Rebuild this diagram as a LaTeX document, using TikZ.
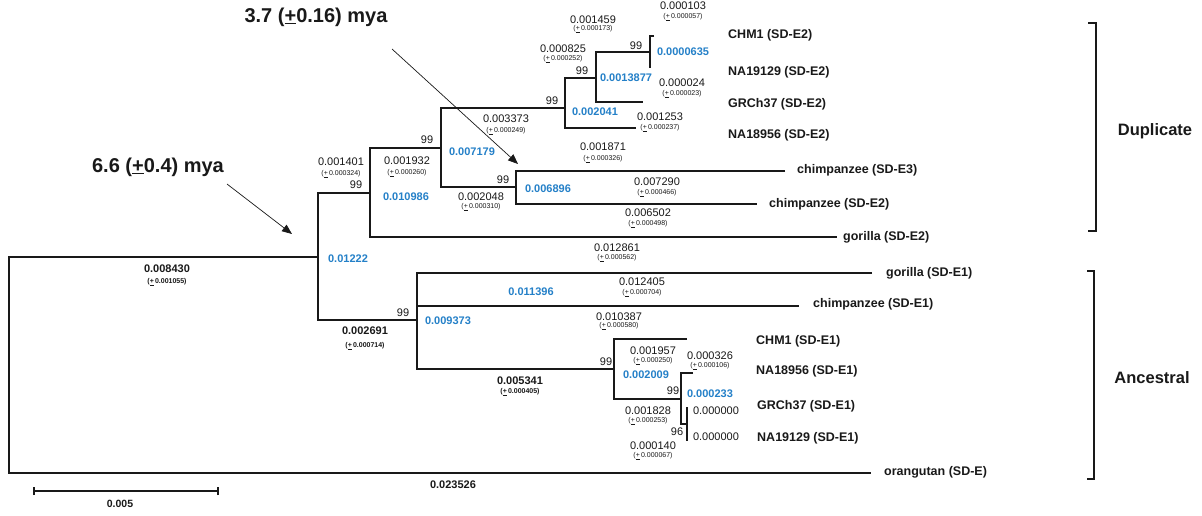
\documentclass[tikz,border=0pt]{standalone}
\usepackage{fontspec}
\setmainfont{Liberation Sans}
\usetikzlibrary{arrows.meta}
\definecolor{bl}{RGB}{36,128,200}
\definecolor{ink}{RGB}{25,25,25}
\newcommand\upl{\underline{+}}
\begin{document}
\begin{tikzpicture}[x=1pt,y=-1pt,
 br/.style={line width=1.7pt, draw=ink, line join=miter},
 num/.style={font=\fontsize{11}{12}\selectfont, text=ink, inner sep=0},
 se/.style={font=\fontsize{7}{8}\selectfont, text=ink, inner sep=0},
 bv/.style={font=\fontsize{11}{12}\selectfont\bfseries, text=bl, inner sep=0},
 bn/.style={font=\fontsize{11}{12}\selectfont\bfseries, text=ink, inner sep=0},
 leaf/.style={font=\fontsize{12.5}{14}\selectfont\bfseries, text=ink, anchor=west, inner sep=0},
 big/.style={font=\fontsize{20}{22}\selectfont\bfseries, text=ink, inner sep=0},
 grp/.style={font=\fontsize{16.5}{18}\selectfont\bfseries, text=ink, inner sep=0},
 ptr/.style={line width=0.7pt, draw=ink, -{Triangle[length=10pt,width=8pt]}},
 brk/.style={line width=1.7pt, draw=ink}
]
\fill[white] (0,0) rectangle (1202,515);
\useasboundingbox (0,0) rectangle (1202,515);

% ---------- tree coordinates ----------
\coordinate (root) at (9,257);
\coordinate (orang) at (871,473);
\coordinate (A) at (318,257);
\coordinate (D) at (370,193);
\coordinate (E) at (441,148);
\coordinate (F) at (516,187);
\coordinate (G) at (565,108);
\coordinate (H) at (596,78);
\coordinate (I) at (650,52);
\coordinate (chmA) at (654,36);
\coordinate (naA) at (650,68);
\coordinate (grcA) at (643,102);
\coordinate (na18A) at (636,128);
\coordinate (ch3) at (785,171);
\coordinate (ch2) at (757,204);
\coordinate (gor2) at (837,237);
\coordinate (J) at (417,320);
\coordinate (gor1) at (872,273);
\coordinate (ch1) at (799,306);
\coordinate (K) at (614,369);
\coordinate (chmB) at (687,339);
\coordinate (L) at (681,399);
\coordinate (na18B) at (693,373);
\coordinate (M) at (687,424);
\coordinate (grcB) at (687,407);
\coordinate (naB) at (687,441);

% ---------- branches ----------
\draw[br] (A) -- (root) |- (orang);
\draw[br] (D) -| (A) |- (J);
\draw[br] (E) -| (D) |- (gor2);
\draw[br] (G) -| (E) |- (F);
\draw[br] (ch3) -| (F) |- (ch2);
\draw[br] (H) -| (G) |- (na18A);
\draw[br] (I) -| (H) |- (grcA);
\draw[br] (chmA) -| (I) -- (naA);
\draw[br] (gor1) -| (J) |- (K);
\draw[br] (J |- ch1) -- (ch1);
\draw[br] (chmB) -| (K) |- (L);
\draw[br] (na18B) -| (L) |- (M);
\draw[br] (grcB) -- (naB);

% ---------- leaf labels ----------
\node[leaf] (t1) at (728,35) {CHM1 (SD-E2)};
\node[leaf] (t2) at (728,72) {NA19129 (SD-E2)};
\node[leaf] (t3) at (728,104) {GRCh37 (SD-E2)};
\node[leaf] (t4) at (728,135) {NA18956 (SD-E2)};
\node[leaf] (t5) at (797,170) {chimpanzee (SD-E3)};
\node[leaf] (t6) at (769,204) {chimpanzee (SD-E2)};
\node[leaf] (t7) at (843,237) {gorilla (SD-E2)};
\node[leaf] (t8) at (886,273) {gorilla (SD-E1)};
\node[leaf] (t9) at (813,304) {chimpanzee (SD-E1)};
\node[leaf] (t10) at (756,341) {CHM1 (SD-E1)};
\node[leaf] (t11) at (756,371) {NA18956 (SD-E1)};
\node[leaf] (t12) at (757,406) {GRCh37 (SD-E1)};
\node[leaf] (t13) at (757,438) {NA19129 (SD-E1)};
\node[leaf] (t14) at (884,472) {orangutan (SD-E)};

% ---------- brackets ----------
\coordinate (b1a) at (1088,23);
\coordinate (b1b) at (1096,231);
\draw[brk] (b1a) -- (b1a -| b1b) -- (b1b) -- (b1b -| b1a);
\node[grp] (dup) at (1155,131) {Duplicate};
\coordinate (b2a) at (1087,271);
\coordinate (b2b) at (1094,479);
\draw[brk] (b2a) -- (b2a -| b2b) -- (b2b) -- (b2b -| b2a);
\node[grp] (anc) at (1152,378) {Ancestral};

% ---------- dates and arrows ----------
\node[big] (m1) at (158,167) {6.6 (\upl0.4) mya};
\node[big] (m2) at (316,17) {3.7 (\upl0.16) mya};
\coordinate (a1s) at (227,184);
\coordinate (a1e) at (292,234);
\coordinate (a2s) at (392,49);
\coordinate (a2e) at (518,164);
\draw[ptr] (a1s) -- (a1e);
\draw[ptr] (a2s) -- (a2e);

% ---------- duplicate clade numbers ----------
\node[num] (v1) at (683,6) {0.000103};
\node[se] (s1) at (683,17) {(\upl\,0.000057)};
\node[num] (v2) at (593,20) {0.001459};
\node[se] (s2) at (593,29) {(\upl\,0.000173)};
\node[num] (p1) at (636,46) {99};
\node[bv] (c1) at (683,52) {0.0000635};
\node[num] (v3) at (563,49) {0.000825};
\node[se] (s3) at (563,59) {(\upl\,0.000252)};
\node[num] (p2) at (582,71) {99};
\node[bv] (c2) at (626,78) {0.0013877};
\node[num] (v4) at (682,83) {0.000024};
\node[se] (s4) at (682,94) {(\upl\,0.000023)};
\node[num] (p3) at (552,101) {99};
\node[bv] (c3) at (595,112) {0.002041};
\node[num] (v5) at (660,117) {0.001253};
\node[se] (s5) at (660,128) {(\upl\,0.000237)};
\node[num] (v6) at (603,147) {0.001871};
\node[se] (s6) at (603,159) {(\upl\,0.000326)};
\node[num] (v7) at (506,119) {0.003373};
\node[se] (s7) at (506,131) {(\upl\,0.000249)};
\node[bv] (c4) at (472,152) {0.007179};
\node[num] (p4) at (427,140) {99};
\node[num] (v8) at (407,161) {0.001932};
\node[se] (s8) at (407,173) {(\upl\,0.000260)};
\node[bv] (c5) at (406,197) {0.010986};
\node[num] (p5) at (503,180) {99};
\node[num] (v9) at (481,197) {0.002048};
\node[se] (s9) at (481,207) {(\upl\,0.000310)};
\node[bv] (c6) at (548,189) {0.006896};
\node[num] (v10) at (657,182) {0.007290};
\node[se] (s10) at (657,193) {(\upl\,0.000466)};
\node[num] (v11) at (648,213) {0.006502};
\node[se] (s11) at (648,224) {(\upl\,0.000498)};
\node[num] (v12) at (617,248) {0.012861};
\node[se] (s12) at (617,258) {(\upl\,0.000562)};
\node[num] (v13) at (341,162) {0.001401};
\node[se] (s13) at (341,174) {(\upl\,0.000324)};
\node[num] (p6) at (356,185) {99};
\node[bv] (c7) at (348,259) {0.01222};
\node[bn] (w1) at (167,269) {0.008430};
\node[se,font=\fontsize{7}{8}\selectfont\bfseries] (s14) at (167,282) {(\upl\,0.001055)};

% ---------- ancestral clade numbers ----------
\node[num] (v14) at (642,282) {0.012405};
\node[se] (s15) at (642,293) {(\upl\,0.000704)};
\node[bv] (c8) at (531,292) {0.011396};
\node[num] (v15) at (619,317) {0.010387};
\node[se] (s16) at (619,326) {(\upl\,0.000580)};
\node[num] (p7) at (403,313) {99};
\node[bv] (c9) at (448,321) {0.009373};
\node[bn] (w2) at (365,331) {0.002691};
\node[se,font=\fontsize{7}{8}\selectfont\bfseries] (s17) at (365,346) {(\upl\,0.000714)};
\node[bn] (w3) at (520,381) {0.005341};
\node[se,font=\fontsize{7}{8}\selectfont\bfseries] (s18) at (520,392) {(\upl\,0.000405)};
\node[num] (p8) at (606,362) {99};
\node[num] (v16) at (653,351) {0.001957};
\node[se] (s19) at (653,361) {(\upl\,0.000250)};
\node[bv] (c10) at (646,375) {0.002009};
\node[num] (v17) at (710,356) {0.000326};
\node[se] (s20) at (710,366) {(\upl\,0.000106)};
\node[num] (p9) at (673,391) {99};
\node[bv] (c11) at (710,394) {0.000233};
\node[num] (v18) at (648,411) {0.001828};
\node[se] (s21) at (648,421) {(\upl\,0.000253)};
\node[num] (v19) at (716,411) {0.000000};
\node[num] (p10) at (677,432) {96};
\node[num] (v20) at (716,437) {0.000000};
\node[num] (v21) at (653,446) {0.000140};
\node[se] (s22) at (653,456) {(\upl\,0.000067)};
\node[bn] (w4) at (453,485) {0.023526};

% ---------- scale bar ----------
\coordinate (sb1) at (34,491);
\coordinate (sb2) at (218,491);
\draw[line width=1.5pt, draw=ink] (sb1) -- (sb2);
\draw[line width=1.5pt, draw=ink] ([yshift=-4pt]sb1) -- ([yshift=4pt]sb1);
\draw[line width=1.5pt, draw=ink] ([yshift=-4pt]sb2) -- ([yshift=4pt]sb2);
\node[bn,font=\fontsize{10.5}{12}\selectfont\bfseries] (w5) at (120,504) {0.005};
\end{tikzpicture}
\end{document}
